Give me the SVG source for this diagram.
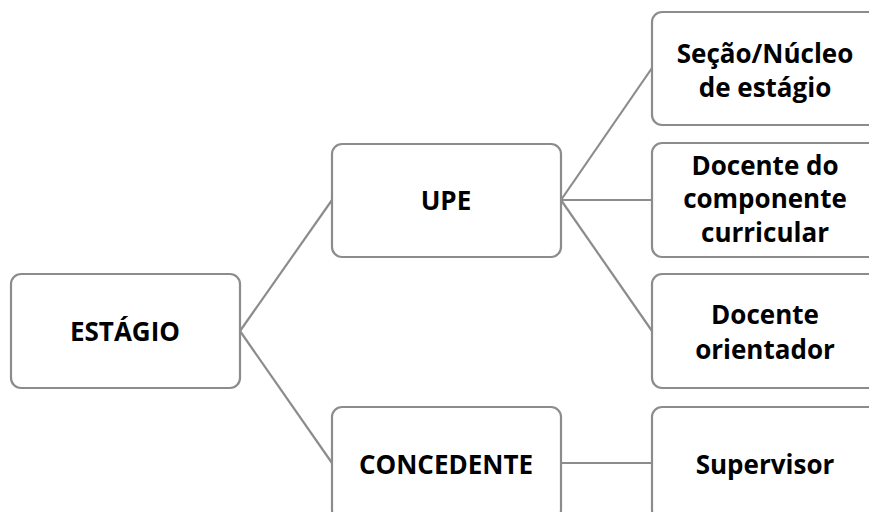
<svg xmlns="http://www.w3.org/2000/svg" width="869" height="512" viewBox="0 0 869 512">
<style>
.box{fill:#ffffff;stroke:#8c8c8c;stroke-width:2.2}
.lbl{font-family:"Open Sans","Noto Sans","Liberation Sans",sans-serif;font-weight:700;font-size:26px;fill:#000000;text-anchor:middle}
.conn{stroke:#8c8c8c;stroke-width:2.2;fill:none}
</style>
<rect width="869" height="512" fill="#ffffff"/>
<g id="connectors">
<line class="conn" x1="240" y1="331" x2="332" y2="200"/>
<line class="conn" x1="240" y1="331" x2="332" y2="463"/>
<line class="conn" x1="561" y1="200" x2="652" y2="68"/>
<line class="conn" x1="561" y1="200" x2="652" y2="200"/>
<line class="conn" x1="561" y1="200" x2="652" y2="331"/>
<line class="conn" x1="561" y1="463" x2="652" y2="463"/>
</g>
<g id="estagio">
<rect class="box" x="11" y="274" width="229" height="114" rx="10"/>
<text class="lbl" x="125" y="341">ESTÁGIO</text>
</g>
<g id="upe">
<rect class="box" x="332" y="144" width="229" height="113" rx="10"/>
<text class="lbl" x="446" y="210">UPE</text>
</g>
<g id="concedente">
<rect class="box" x="332" y="407" width="229" height="113" rx="10"/>
<text class="lbl" x="446" y="474">CONCEDENTE</text>
</g>
<g id="secao">
<rect class="box" x="652" y="12" width="230" height="113" rx="10"/>
<text class="lbl" x="765" y="63">Seção/Núcleo</text>
<text class="lbl" x="765" y="97">de estágio</text>
</g>
<g id="docente-componente">
<rect class="box" x="652" y="143" width="230" height="114" rx="10"/>
<text class="lbl" x="765" y="175">Docente do</text>
<text class="lbl" x="765" y="208">componente</text>
<text class="lbl" x="765" y="242">curricular</text>
</g>
<g id="docente-orientador">
<rect class="box" x="652" y="274" width="230" height="114" rx="10"/>
<text class="lbl" x="765" y="324">Docente</text>
<text class="lbl" x="765" y="359">orientador</text>
</g>
<g id="supervisor">
<rect class="box" x="652" y="407" width="230" height="113" rx="10"/>
<text class="lbl" x="765" y="474">Supervisor</text>
</g>
</svg>
